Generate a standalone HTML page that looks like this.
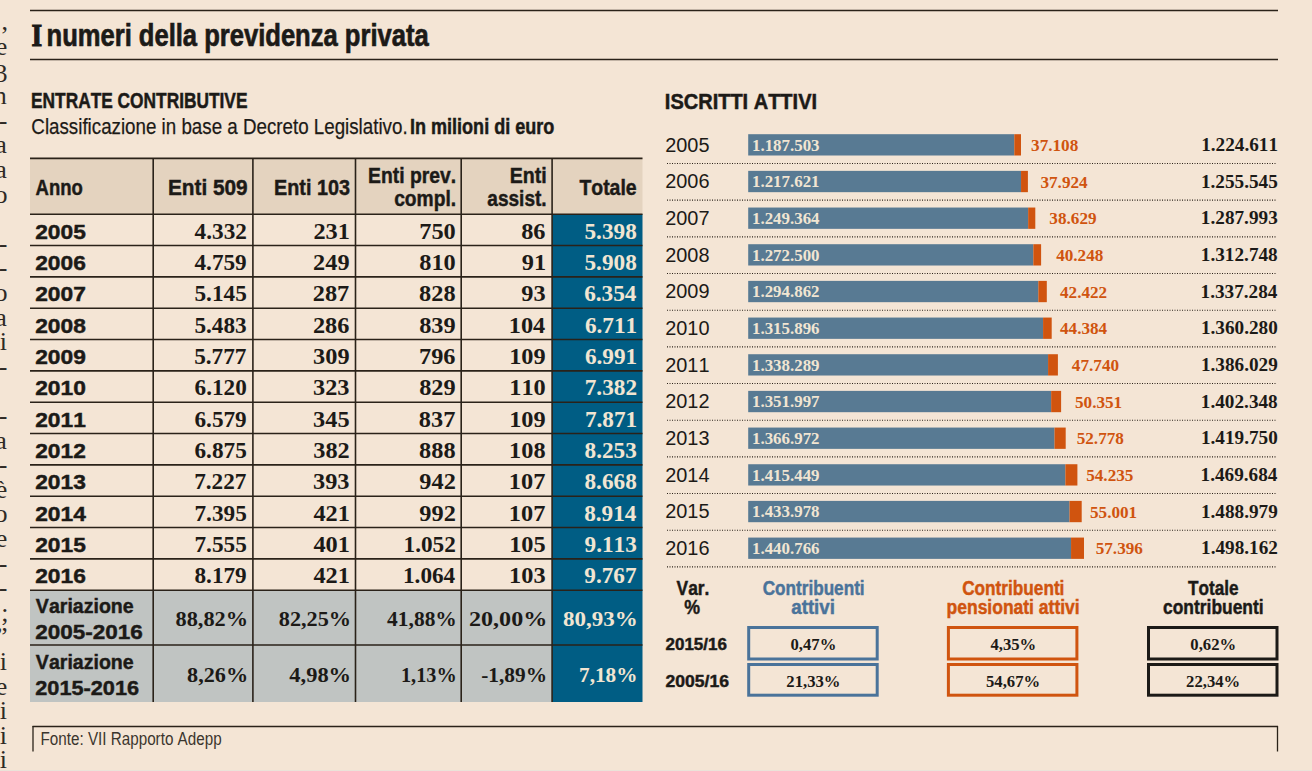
<!DOCTYPE html>
<html><head><meta charset="utf-8"><style>
html,body{margin:0;padding:0;background:#f4e5d5;}
body{width:1312px;height:771px;overflow:hidden;}
svg{display:block;}
text{font-kerning:none;}
</style></head><body>
<svg width="1312" height="771" viewBox="0 0 1312 771">
<rect x="0" y="0" width="1312" height="771" fill="#f4e5d5"/>
<line x1="30.00" y1="10.50" x2="1278.00" y2="10.50" stroke="#2a2219" stroke-width="1.5"/>
<line x1="30.00" y1="59.50" x2="1278.00" y2="59.50" stroke="#2a2219" stroke-width="1.5"/>
<text x="31.38" y="45.80" font-family="Liberation Serif" font-weight="bold" font-size="32.42" fill="#1c1a17" stroke="#1c1a17" stroke-width="1.2" textLength="10.64" lengthAdjust="spacingAndGlyphs">I</text>
<text x="46.52" y="45.80" font-family="Liberation Sans" font-weight="bold" font-size="31.10" fill="#1c1a17" stroke="#1c1a17" stroke-width="0.7" textLength="382.12" lengthAdjust="spacingAndGlyphs">numeri della previdenza privata</text>
<text x="31.04" y="108.40" font-family="Liberation Sans" font-weight="bold" font-size="21.66" fill="#1c1a17" stroke="#1c1a17" stroke-width="0.5" textLength="216.43" lengthAdjust="spacingAndGlyphs">ENTRATE CONTRIBUTIVE</text>
<text x="31.35" y="133.70" font-family="Liberation Sans" font-weight="normal" font-size="22.24" fill="#1c1a17" stroke="#1c1a17" stroke-width="0.25" textLength="376.26" lengthAdjust="spacingAndGlyphs">Classificazione in base a Decreto Legislativo.</text>
<text x="409.99" y="133.70" font-family="Liberation Sans" font-weight="bold" font-size="22.24" fill="#1c1a17" stroke="#1c1a17" stroke-width="0.5" textLength="144.31" lengthAdjust="spacingAndGlyphs">In milioni di euro</text>
<rect x="30.00" y="158.00" width="612.50" height="56.00" fill="#e4d3bf"/>
<rect x="30.00" y="590.00" width="522.10" height="112.00" fill="#c0c4c2"/>
<rect x="552.10" y="214.00" width="90.40" height="488.00" fill="#005d84"/>
<line x1="30.00" y1="158.40" x2="642.50" y2="158.40" stroke="#2a2219" stroke-width="1.6"/>
<line x1="30.00" y1="214.20" x2="642.50" y2="214.20" stroke="#2a2219" stroke-width="1.6"/>
<line x1="30.00" y1="245.53" x2="642.50" y2="245.53" stroke="#2a2219" stroke-width="1.6"/>
<line x1="30.00" y1="276.87" x2="642.50" y2="276.87" stroke="#2a2219" stroke-width="1.6"/>
<line x1="30.00" y1="308.20" x2="642.50" y2="308.20" stroke="#2a2219" stroke-width="1.6"/>
<line x1="30.00" y1="339.53" x2="642.50" y2="339.53" stroke="#2a2219" stroke-width="1.6"/>
<line x1="30.00" y1="370.87" x2="642.50" y2="370.87" stroke="#2a2219" stroke-width="1.6"/>
<line x1="30.00" y1="402.20" x2="642.50" y2="402.20" stroke="#2a2219" stroke-width="1.6"/>
<line x1="30.00" y1="433.53" x2="642.50" y2="433.53" stroke="#2a2219" stroke-width="1.6"/>
<line x1="30.00" y1="464.86" x2="642.50" y2="464.86" stroke="#2a2219" stroke-width="1.6"/>
<line x1="30.00" y1="496.20" x2="642.50" y2="496.20" stroke="#2a2219" stroke-width="1.6"/>
<line x1="30.00" y1="527.53" x2="642.50" y2="527.53" stroke="#2a2219" stroke-width="1.6"/>
<line x1="30.00" y1="558.86" x2="642.50" y2="558.86" stroke="#2a2219" stroke-width="1.6"/>
<line x1="30.00" y1="590.20" x2="642.50" y2="590.20" stroke="#2a2219" stroke-width="1.6"/>
<line x1="30.00" y1="645.00" x2="642.50" y2="645.00" stroke="#2a2219" stroke-width="1.6"/>
<line x1="153.20" y1="158.00" x2="153.20" y2="702.00" stroke="#2a2219" stroke-width="1.6"/>
<line x1="252.90" y1="158.00" x2="252.90" y2="702.00" stroke="#2a2219" stroke-width="1.6"/>
<line x1="355.50" y1="158.00" x2="355.50" y2="702.00" stroke="#2a2219" stroke-width="1.6"/>
<line x1="461.20" y1="158.00" x2="461.20" y2="702.00" stroke="#2a2219" stroke-width="1.6"/>
<line x1="552.10" y1="158.00" x2="552.10" y2="702.00" stroke="#2a2219" stroke-width="1.6"/>
<text x="35.54" y="195.20" font-family="Liberation Sans" font-weight="bold" font-size="21.51" fill="#1c1a17" stroke="#1c1a17" stroke-width="0.45" textLength="47.28" lengthAdjust="spacingAndGlyphs">Anno</text>
<text x="167.91" y="195.20" font-family="Liberation Sans" font-weight="bold" font-size="21.51" fill="#1c1a17" stroke="#1c1a17" stroke-width="0.45" textLength="79.76" lengthAdjust="spacingAndGlyphs">Enti 509</text>
<text x="274.08" y="195.20" font-family="Liberation Sans" font-weight="bold" font-size="21.51" fill="#1c1a17" stroke="#1c1a17" stroke-width="0.45" textLength="75.84" lengthAdjust="spacingAndGlyphs">Enti 103</text>
<text x="368.01" y="182.70" font-family="Liberation Sans" font-weight="bold" font-size="21.22" fill="#1c1a17" stroke="#1c1a17" stroke-width="0.45" textLength="88.13" lengthAdjust="spacingAndGlyphs">Enti prev.</text>
<text x="394.15" y="206.20" font-family="Liberation Sans" font-weight="bold" font-size="21.22" fill="#1c1a17" stroke="#1c1a17" stroke-width="0.45" textLength="61.98" lengthAdjust="spacingAndGlyphs">compl.</text>
<text x="509.69" y="182.70" font-family="Liberation Sans" font-weight="bold" font-size="21.22" fill="#1c1a17" stroke="#1c1a17" stroke-width="0.45" textLength="37.00" lengthAdjust="spacingAndGlyphs">Enti</text>
<text x="487.34" y="206.20" font-family="Liberation Sans" font-weight="bold" font-size="21.22" fill="#1c1a17" stroke="#1c1a17" stroke-width="0.45" textLength="59.27" lengthAdjust="spacingAndGlyphs">assist.</text>
<text x="579.38" y="195.20" font-family="Liberation Sans" font-weight="bold" font-size="21.51" fill="#1c1a17" stroke="#1c1a17" stroke-width="0.45" textLength="57.28" lengthAdjust="spacingAndGlyphs">Totale</text>
<text x="35.21" y="238.50" font-family="Liberation Sans" font-weight="bold" font-size="21.08" fill="#1c1a17" stroke="#1c1a17" stroke-width="0.45" textLength="50.64" lengthAdjust="spacingAndGlyphs">2005</text>
<text x="194.64" y="238.50" font-family="Liberation Serif" font-weight="bold" font-size="22.12" fill="#1c1a17" textLength="52.26" lengthAdjust="spacingAndGlyphs">4.332</text>
<text x="313.46" y="238.50" font-family="Liberation Serif" font-weight="bold" font-size="22.12" fill="#1c1a17" textLength="36.50" lengthAdjust="spacingAndGlyphs">231</text>
<text x="419.23" y="238.50" font-family="Liberation Serif" font-weight="bold" font-size="22.12" fill="#1c1a17" textLength="36.50" lengthAdjust="spacingAndGlyphs">750</text>
<text x="521.18" y="238.50" font-family="Liberation Serif" font-weight="bold" font-size="22.12" fill="#1c1a17" textLength="24.33" lengthAdjust="spacingAndGlyphs">86</text>
<text x="584.51" y="238.50" font-family="Liberation Serif" font-weight="bold" font-size="22.12" fill="#f1e5d2" textLength="52.26" lengthAdjust="spacingAndGlyphs">5.398</text>
<text x="35.21" y="269.83" font-family="Liberation Sans" font-weight="bold" font-size="21.08" fill="#1c1a17" stroke="#1c1a17" stroke-width="0.45" textLength="50.64" lengthAdjust="spacingAndGlyphs">2006</text>
<text x="194.48" y="269.83" font-family="Liberation Serif" font-weight="bold" font-size="22.12" fill="#1c1a17" textLength="52.26" lengthAdjust="spacingAndGlyphs">4.759</text>
<text x="313.08" y="269.83" font-family="Liberation Serif" font-weight="bold" font-size="22.12" fill="#1c1a17" textLength="36.50" lengthAdjust="spacingAndGlyphs">249</text>
<text x="419.23" y="269.83" font-family="Liberation Serif" font-weight="bold" font-size="22.12" fill="#1c1a17" textLength="36.50" lengthAdjust="spacingAndGlyphs">810</text>
<text x="521.73" y="269.83" font-family="Liberation Serif" font-weight="bold" font-size="22.12" fill="#1c1a17" textLength="24.33" lengthAdjust="spacingAndGlyphs">91</text>
<text x="584.51" y="269.83" font-family="Liberation Serif" font-weight="bold" font-size="22.12" fill="#f1e5d2" textLength="52.26" lengthAdjust="spacingAndGlyphs">5.908</text>
<text x="35.21" y="301.17" font-family="Liberation Sans" font-weight="bold" font-size="21.08" fill="#1c1a17" stroke="#1c1a17" stroke-width="0.45" textLength="50.64" lengthAdjust="spacingAndGlyphs">2007</text>
<text x="194.49" y="301.17" font-family="Liberation Serif" font-weight="bold" font-size="22.12" fill="#1c1a17" textLength="52.26" lengthAdjust="spacingAndGlyphs">5.145</text>
<text x="312.79" y="301.17" font-family="Liberation Serif" font-weight="bold" font-size="22.12" fill="#1c1a17" textLength="36.50" lengthAdjust="spacingAndGlyphs">287</text>
<text x="419.11" y="301.17" font-family="Liberation Serif" font-weight="bold" font-size="22.12" fill="#1c1a17" textLength="36.50" lengthAdjust="spacingAndGlyphs">828</text>
<text x="521.30" y="301.17" font-family="Liberation Serif" font-weight="bold" font-size="22.12" fill="#1c1a17" textLength="24.33" lengthAdjust="spacingAndGlyphs">93</text>
<text x="584.17" y="301.17" font-family="Liberation Serif" font-weight="bold" font-size="22.12" fill="#f1e5d2" textLength="52.26" lengthAdjust="spacingAndGlyphs">6.354</text>
<text x="35.21" y="332.50" font-family="Liberation Sans" font-weight="bold" font-size="21.08" fill="#1c1a17" stroke="#1c1a17" stroke-width="0.45" textLength="50.64" lengthAdjust="spacingAndGlyphs">2008</text>
<text x="194.43" y="332.50" font-family="Liberation Serif" font-weight="bold" font-size="22.12" fill="#1c1a17" textLength="52.26" lengthAdjust="spacingAndGlyphs">5.483</text>
<text x="312.91" y="332.50" font-family="Liberation Serif" font-weight="bold" font-size="22.12" fill="#1c1a17" textLength="36.50" lengthAdjust="spacingAndGlyphs">286</text>
<text x="419.18" y="332.50" font-family="Liberation Serif" font-weight="bold" font-size="22.12" fill="#1c1a17" textLength="36.50" lengthAdjust="spacingAndGlyphs">839</text>
<text x="508.75" y="332.50" font-family="Liberation Serif" font-weight="bold" font-size="22.12" fill="#1c1a17" textLength="36.50" lengthAdjust="spacingAndGlyphs">104</text>
<text x="584.94" y="332.50" font-family="Liberation Serif" font-weight="bold" font-size="22.12" fill="#f1e5d2" textLength="52.26" lengthAdjust="spacingAndGlyphs">6.711</text>
<text x="35.21" y="363.83" font-family="Liberation Sans" font-weight="bold" font-size="21.08" fill="#1c1a17" stroke="#1c1a17" stroke-width="0.45" textLength="50.64" lengthAdjust="spacingAndGlyphs">2009</text>
<text x="194.21" y="363.83" font-family="Liberation Serif" font-weight="bold" font-size="22.12" fill="#1c1a17" textLength="52.26" lengthAdjust="spacingAndGlyphs">5.777</text>
<text x="313.08" y="363.83" font-family="Liberation Serif" font-weight="bold" font-size="22.12" fill="#1c1a17" textLength="36.50" lengthAdjust="spacingAndGlyphs">309</text>
<text x="419.01" y="363.83" font-family="Liberation Serif" font-weight="bold" font-size="22.12" fill="#1c1a17" textLength="36.50" lengthAdjust="spacingAndGlyphs">796</text>
<text x="509.18" y="363.83" font-family="Liberation Serif" font-weight="bold" font-size="22.12" fill="#1c1a17" textLength="36.50" lengthAdjust="spacingAndGlyphs">109</text>
<text x="584.94" y="363.83" font-family="Liberation Serif" font-weight="bold" font-size="22.12" fill="#f1e5d2" textLength="52.26" lengthAdjust="spacingAndGlyphs">6.991</text>
<text x="35.21" y="395.16" font-family="Liberation Sans" font-weight="bold" font-size="21.08" fill="#1c1a17" stroke="#1c1a17" stroke-width="0.45" textLength="50.64" lengthAdjust="spacingAndGlyphs">2010</text>
<text x="194.52" y="395.16" font-family="Liberation Serif" font-weight="bold" font-size="22.12" fill="#1c1a17" textLength="52.26" lengthAdjust="spacingAndGlyphs">6.120</text>
<text x="313.03" y="395.16" font-family="Liberation Serif" font-weight="bold" font-size="22.12" fill="#1c1a17" textLength="36.50" lengthAdjust="spacingAndGlyphs">323</text>
<text x="419.18" y="395.16" font-family="Liberation Serif" font-weight="bold" font-size="22.12" fill="#1c1a17" textLength="36.50" lengthAdjust="spacingAndGlyphs">829</text>
<text x="509.23" y="395.16" font-family="Liberation Serif" font-weight="bold" font-size="22.12" fill="#1c1a17" textLength="36.50" lengthAdjust="spacingAndGlyphs">110</text>
<text x="584.74" y="395.16" font-family="Liberation Serif" font-weight="bold" font-size="22.12" fill="#f1e5d2" textLength="52.26" lengthAdjust="spacingAndGlyphs">7.382</text>
<text x="35.21" y="426.50" font-family="Liberation Sans" font-weight="bold" font-size="21.08" fill="#1c1a17" stroke="#1c1a17" stroke-width="0.45" textLength="50.64" lengthAdjust="spacingAndGlyphs">2011</text>
<text x="194.48" y="426.50" font-family="Liberation Serif" font-weight="bold" font-size="22.12" fill="#1c1a17" textLength="52.26" lengthAdjust="spacingAndGlyphs">6.579</text>
<text x="313.09" y="426.50" font-family="Liberation Serif" font-weight="bold" font-size="22.12" fill="#1c1a17" textLength="36.50" lengthAdjust="spacingAndGlyphs">345</text>
<text x="418.89" y="426.50" font-family="Liberation Serif" font-weight="bold" font-size="22.12" fill="#1c1a17" textLength="36.50" lengthAdjust="spacingAndGlyphs">837</text>
<text x="509.18" y="426.50" font-family="Liberation Serif" font-weight="bold" font-size="22.12" fill="#1c1a17" textLength="36.50" lengthAdjust="spacingAndGlyphs">109</text>
<text x="584.94" y="426.50" font-family="Liberation Serif" font-weight="bold" font-size="22.12" fill="#f1e5d2" textLength="52.26" lengthAdjust="spacingAndGlyphs">7.871</text>
<text x="35.21" y="457.83" font-family="Liberation Sans" font-weight="bold" font-size="21.08" fill="#1c1a17" stroke="#1c1a17" stroke-width="0.45" textLength="50.64" lengthAdjust="spacingAndGlyphs">2012</text>
<text x="194.49" y="457.83" font-family="Liberation Serif" font-weight="bold" font-size="22.12" fill="#1c1a17" textLength="52.26" lengthAdjust="spacingAndGlyphs">6.875</text>
<text x="313.25" y="457.83" font-family="Liberation Serif" font-weight="bold" font-size="22.12" fill="#1c1a17" textLength="36.50" lengthAdjust="spacingAndGlyphs">382</text>
<text x="419.11" y="457.83" font-family="Liberation Serif" font-weight="bold" font-size="22.12" fill="#1c1a17" textLength="36.50" lengthAdjust="spacingAndGlyphs">888</text>
<text x="509.11" y="457.83" font-family="Liberation Serif" font-weight="bold" font-size="22.12" fill="#1c1a17" textLength="36.50" lengthAdjust="spacingAndGlyphs">108</text>
<text x="584.53" y="457.83" font-family="Liberation Serif" font-weight="bold" font-size="22.12" fill="#f1e5d2" textLength="52.26" lengthAdjust="spacingAndGlyphs">8.253</text>
<text x="35.21" y="489.16" font-family="Liberation Sans" font-weight="bold" font-size="21.08" fill="#1c1a17" stroke="#1c1a17" stroke-width="0.45" textLength="50.64" lengthAdjust="spacingAndGlyphs">2013</text>
<text x="194.21" y="489.16" font-family="Liberation Serif" font-weight="bold" font-size="22.12" fill="#1c1a17" textLength="52.26" lengthAdjust="spacingAndGlyphs">7.227</text>
<text x="313.03" y="489.16" font-family="Liberation Serif" font-weight="bold" font-size="22.12" fill="#1c1a17" textLength="36.50" lengthAdjust="spacingAndGlyphs">393</text>
<text x="419.35" y="489.16" font-family="Liberation Serif" font-weight="bold" font-size="22.12" fill="#1c1a17" textLength="36.50" lengthAdjust="spacingAndGlyphs">942</text>
<text x="508.89" y="489.16" font-family="Liberation Serif" font-weight="bold" font-size="22.12" fill="#1c1a17" textLength="36.50" lengthAdjust="spacingAndGlyphs">107</text>
<text x="584.51" y="489.16" font-family="Liberation Serif" font-weight="bold" font-size="22.12" fill="#f1e5d2" textLength="52.26" lengthAdjust="spacingAndGlyphs">8.668</text>
<text x="35.21" y="520.50" font-family="Liberation Sans" font-weight="bold" font-size="21.08" fill="#1c1a17" stroke="#1c1a17" stroke-width="0.45" textLength="50.64" lengthAdjust="spacingAndGlyphs">2014</text>
<text x="194.49" y="520.50" font-family="Liberation Serif" font-weight="bold" font-size="22.12" fill="#1c1a17" textLength="52.26" lengthAdjust="spacingAndGlyphs">7.395</text>
<text x="313.46" y="520.50" font-family="Liberation Serif" font-weight="bold" font-size="22.12" fill="#1c1a17" textLength="36.50" lengthAdjust="spacingAndGlyphs">421</text>
<text x="419.35" y="520.50" font-family="Liberation Serif" font-weight="bold" font-size="22.12" fill="#1c1a17" textLength="36.50" lengthAdjust="spacingAndGlyphs">992</text>
<text x="508.89" y="520.50" font-family="Liberation Serif" font-weight="bold" font-size="22.12" fill="#1c1a17" textLength="36.50" lengthAdjust="spacingAndGlyphs">107</text>
<text x="584.17" y="520.50" font-family="Liberation Serif" font-weight="bold" font-size="22.12" fill="#f1e5d2" textLength="52.26" lengthAdjust="spacingAndGlyphs">8.914</text>
<text x="35.21" y="551.83" font-family="Liberation Sans" font-weight="bold" font-size="21.08" fill="#1c1a17" stroke="#1c1a17" stroke-width="0.45" textLength="50.64" lengthAdjust="spacingAndGlyphs">2015</text>
<text x="194.49" y="551.83" font-family="Liberation Serif" font-weight="bold" font-size="22.12" fill="#1c1a17" textLength="52.26" lengthAdjust="spacingAndGlyphs">7.555</text>
<text x="313.46" y="551.83" font-family="Liberation Serif" font-weight="bold" font-size="22.12" fill="#1c1a17" textLength="36.50" lengthAdjust="spacingAndGlyphs">401</text>
<text x="403.54" y="551.83" font-family="Liberation Serif" font-weight="bold" font-size="22.12" fill="#1c1a17" textLength="52.26" lengthAdjust="spacingAndGlyphs">1.052</text>
<text x="509.19" y="551.83" font-family="Liberation Serif" font-weight="bold" font-size="22.12" fill="#1c1a17" textLength="36.50" lengthAdjust="spacingAndGlyphs">105</text>
<text x="584.53" y="551.83" font-family="Liberation Serif" font-weight="bold" font-size="22.12" fill="#f1e5d2" textLength="52.26" lengthAdjust="spacingAndGlyphs">9.113</text>
<text x="35.21" y="583.16" font-family="Liberation Sans" font-weight="bold" font-size="21.08" fill="#1c1a17" stroke="#1c1a17" stroke-width="0.45" textLength="50.64" lengthAdjust="spacingAndGlyphs">2016</text>
<text x="194.48" y="583.16" font-family="Liberation Serif" font-weight="bold" font-size="22.12" fill="#1c1a17" textLength="52.26" lengthAdjust="spacingAndGlyphs">8.179</text>
<text x="313.46" y="583.16" font-family="Liberation Serif" font-weight="bold" font-size="22.12" fill="#1c1a17" textLength="36.50" lengthAdjust="spacingAndGlyphs">421</text>
<text x="402.97" y="583.16" font-family="Liberation Serif" font-weight="bold" font-size="22.12" fill="#1c1a17" textLength="52.26" lengthAdjust="spacingAndGlyphs">1.064</text>
<text x="509.13" y="583.16" font-family="Liberation Serif" font-weight="bold" font-size="22.12" fill="#1c1a17" textLength="36.50" lengthAdjust="spacingAndGlyphs">103</text>
<text x="584.31" y="583.16" font-family="Liberation Serif" font-weight="bold" font-size="22.12" fill="#f1e5d2" textLength="52.26" lengthAdjust="spacingAndGlyphs">9.767</text>
<text x="35.87" y="613.20" font-family="Liberation Sans" font-weight="bold" font-size="20.93" fill="#1c1a17" stroke="#1c1a17" stroke-width="0.45" textLength="97.80" lengthAdjust="spacingAndGlyphs">Variazione</text>
<text x="35.22" y="639.00" font-family="Liberation Sans" font-weight="bold" font-size="20.93" fill="#1c1a17" stroke="#1c1a17" stroke-width="0.45" textLength="107.59" lengthAdjust="spacingAndGlyphs">2005-2016</text>
<text x="35.87" y="669.00" font-family="Liberation Sans" font-weight="bold" font-size="20.93" fill="#1c1a17" stroke="#1c1a17" stroke-width="0.45" textLength="97.80" lengthAdjust="spacingAndGlyphs">Variazione</text>
<text x="35.25" y="694.50" font-family="Liberation Sans" font-weight="bold" font-size="20.93" fill="#1c1a17" stroke="#1c1a17" stroke-width="0.45" textLength="103.84" lengthAdjust="spacingAndGlyphs">2015-2016</text>
<text x="175.56" y="626.00" font-family="Liberation Serif" font-weight="bold" font-size="21.82" fill="#1c1a17" textLength="72.53" lengthAdjust="spacingAndGlyphs">88,82%</text>
<text x="187.06" y="682.40" font-family="Liberation Serif" font-weight="bold" font-size="21.82" fill="#1c1a17" textLength="61.02" lengthAdjust="spacingAndGlyphs">8,26%</text>
<text x="278.76" y="626.00" font-family="Liberation Serif" font-weight="bold" font-size="21.82" fill="#1c1a17" textLength="72.33" lengthAdjust="spacingAndGlyphs">82,25%</text>
<text x="289.29" y="682.40" font-family="Liberation Serif" font-weight="bold" font-size="21.82" fill="#1c1a17" textLength="61.81" lengthAdjust="spacingAndGlyphs">4,98%</text>
<text x="387.11" y="626.00" font-family="Liberation Serif" font-weight="bold" font-size="21.82" fill="#1c1a17" textLength="69.70" lengthAdjust="spacingAndGlyphs">41,88%</text>
<text x="400.98" y="682.40" font-family="Liberation Serif" font-weight="bold" font-size="21.82" fill="#1c1a17" textLength="55.72" lengthAdjust="spacingAndGlyphs">1,13%</text>
<text x="468.99" y="626.00" font-family="Liberation Serif" font-weight="bold" font-size="21.82" fill="#1c1a17" textLength="78.27" lengthAdjust="spacingAndGlyphs">20,00%</text>
<text x="481.22" y="682.40" font-family="Liberation Serif" font-weight="bold" font-size="21.82" fill="#1c1a17" textLength="65.78" lengthAdjust="spacingAndGlyphs">-1,89%</text>
<text x="562.94" y="626.00" font-family="Liberation Serif" font-weight="bold" font-size="21.82" fill="#f1e5d2" textLength="74.72" lengthAdjust="spacingAndGlyphs">80,93%</text>
<text x="579.09" y="682.40" font-family="Liberation Serif" font-weight="bold" font-size="21.82" fill="#f1e5d2" textLength="58.40" lengthAdjust="spacingAndGlyphs">7,18%</text>
<text x="664.86" y="108.60" font-family="Liberation Sans" font-weight="bold" font-size="21.22" fill="#1c1a17" stroke="#1c1a17" stroke-width="0.5" textLength="152.18" lengthAdjust="spacingAndGlyphs">ISCRITTI ATTIVI</text>
<rect x="748.20" y="134.20" width="266.10" height="21.30" fill="#587a93"/>
<rect x="1014.30" y="134.20" width="6.70" height="21.30" fill="#d0540f"/>
<text x="665.20" y="151.70" font-family="Liberation Sans" font-weight="normal" font-size="19.91" fill="#1c1a17" textLength="44.30" lengthAdjust="spacingAndGlyphs">2005</text>
<text x="752.05" y="150.60" font-family="Liberation Serif" font-weight="bold" font-size="16.21" fill="#f1e5d2" textLength="67.44" lengthAdjust="spacingAndGlyphs">1.187.503</text>
<text x="1031.05" y="151.00" font-family="Liberation Serif" font-weight="bold" font-size="16.67" fill="#d0540f" textLength="47.21" lengthAdjust="spacingAndGlyphs">37.108</text>
<text x="1201.20" y="151.10" font-family="Liberation Serif" font-weight="bold" font-size="18.94" fill="#1c1a17" textLength="76.89" lengthAdjust="spacingAndGlyphs">1.224.611</text>
<line x1="667.00" y1="163.50" x2="1277.00" y2="163.50" stroke="#2a2219" stroke-width="1.1" stroke-dasharray="1 1.5"/>
<rect x="748.20" y="170.87" width="272.84" height="21.30" fill="#587a93"/>
<rect x="1021.04" y="170.87" width="6.86" height="21.30" fill="#d0540f"/>
<text x="665.20" y="188.37" font-family="Liberation Sans" font-weight="normal" font-size="19.91" fill="#1c1a17" textLength="44.30" lengthAdjust="spacingAndGlyphs">2006</text>
<text x="752.05" y="187.27" font-family="Liberation Serif" font-weight="bold" font-size="16.21" fill="#f1e5d2" textLength="67.44" lengthAdjust="spacingAndGlyphs">1.217.621</text>
<text x="1040.45" y="187.67" font-family="Liberation Serif" font-weight="bold" font-size="16.67" fill="#d0540f" textLength="47.21" lengthAdjust="spacingAndGlyphs">37.924</text>
<text x="1200.91" y="187.77" font-family="Liberation Serif" font-weight="bold" font-size="18.94" fill="#1c1a17" textLength="76.89" lengthAdjust="spacingAndGlyphs">1.255.545</text>
<line x1="667.00" y1="200.17" x2="1277.00" y2="200.17" stroke="#2a2219" stroke-width="1.1" stroke-dasharray="1 1.5"/>
<rect x="748.20" y="207.54" width="279.96" height="21.30" fill="#587a93"/>
<rect x="1028.16" y="207.54" width="7.14" height="21.30" fill="#d0540f"/>
<text x="665.20" y="225.04" font-family="Liberation Sans" font-weight="normal" font-size="19.91" fill="#1c1a17" textLength="44.30" lengthAdjust="spacingAndGlyphs">2007</text>
<text x="752.05" y="223.94" font-family="Liberation Serif" font-weight="bold" font-size="16.21" fill="#f1e5d2" textLength="67.44" lengthAdjust="spacingAndGlyphs">1.249.364</text>
<text x="1049.35" y="224.34" font-family="Liberation Serif" font-weight="bold" font-size="16.67" fill="#d0540f" textLength="47.21" lengthAdjust="spacingAndGlyphs">38.629</text>
<text x="1200.86" y="224.44" font-family="Liberation Serif" font-weight="bold" font-size="18.94" fill="#1c1a17" textLength="76.89" lengthAdjust="spacingAndGlyphs">1.287.993</text>
<line x1="667.00" y1="236.84" x2="1277.00" y2="236.84" stroke="#2a2219" stroke-width="1.1" stroke-dasharray="1 1.5"/>
<rect x="748.20" y="244.21" width="285.14" height="21.30" fill="#587a93"/>
<rect x="1033.34" y="244.21" width="7.76" height="21.30" fill="#d0540f"/>
<text x="665.20" y="261.71" font-family="Liberation Sans" font-weight="normal" font-size="19.91" fill="#1c1a17" textLength="44.30" lengthAdjust="spacingAndGlyphs">2008</text>
<text x="752.05" y="260.61" font-family="Liberation Serif" font-weight="bold" font-size="16.21" fill="#f1e5d2" textLength="67.44" lengthAdjust="spacingAndGlyphs">1.272.500</text>
<text x="1056.17" y="261.01" font-family="Liberation Serif" font-weight="bold" font-size="16.67" fill="#d0540f" textLength="47.21" lengthAdjust="spacingAndGlyphs">40.248</text>
<text x="1200.84" y="261.11" font-family="Liberation Serif" font-weight="bold" font-size="18.94" fill="#1c1a17" textLength="76.89" lengthAdjust="spacingAndGlyphs">1.312.748</text>
<line x1="667.00" y1="273.51" x2="1277.00" y2="273.51" stroke="#2a2219" stroke-width="1.1" stroke-dasharray="1 1.5"/>
<rect x="748.20" y="280.88" width="290.15" height="21.30" fill="#587a93"/>
<rect x="1038.35" y="280.88" width="8.45" height="21.30" fill="#d0540f"/>
<text x="665.20" y="298.38" font-family="Liberation Sans" font-weight="normal" font-size="19.91" fill="#1c1a17" textLength="44.30" lengthAdjust="spacingAndGlyphs">2009</text>
<text x="752.05" y="297.28" font-family="Liberation Serif" font-weight="bold" font-size="16.21" fill="#f1e5d2" textLength="67.44" lengthAdjust="spacingAndGlyphs">1.294.862</text>
<text x="1059.97" y="297.68" font-family="Liberation Serif" font-weight="bold" font-size="16.67" fill="#d0540f" textLength="47.21" lengthAdjust="spacingAndGlyphs">42.422</text>
<text x="1200.56" y="297.78" font-family="Liberation Serif" font-weight="bold" font-size="18.94" fill="#1c1a17" textLength="76.89" lengthAdjust="spacingAndGlyphs">1.337.284</text>
<line x1="667.00" y1="310.18" x2="1277.00" y2="310.18" stroke="#2a2219" stroke-width="1.1" stroke-dasharray="1 1.5"/>
<rect x="748.20" y="317.55" width="294.87" height="21.30" fill="#587a93"/>
<rect x="1043.07" y="317.55" width="8.63" height="21.30" fill="#d0540f"/>
<text x="665.20" y="335.05" font-family="Liberation Sans" font-weight="normal" font-size="19.91" fill="#1c1a17" textLength="44.30" lengthAdjust="spacingAndGlyphs">2010</text>
<text x="752.05" y="333.95" font-family="Liberation Serif" font-weight="bold" font-size="16.21" fill="#f1e5d2" textLength="67.44" lengthAdjust="spacingAndGlyphs">1.315.896</text>
<text x="1059.97" y="334.35" font-family="Liberation Serif" font-weight="bold" font-size="16.67" fill="#d0540f" textLength="47.21" lengthAdjust="spacingAndGlyphs">44.384</text>
<text x="1200.94" y="334.45" font-family="Liberation Serif" font-weight="bold" font-size="18.94" fill="#1c1a17" textLength="76.89" lengthAdjust="spacingAndGlyphs">1.360.280</text>
<line x1="667.00" y1="346.85" x2="1277.00" y2="346.85" stroke="#2a2219" stroke-width="1.1" stroke-dasharray="1 1.5"/>
<rect x="748.20" y="354.22" width="299.88" height="21.30" fill="#587a93"/>
<rect x="1048.08" y="354.22" width="9.82" height="21.30" fill="#d0540f"/>
<text x="665.20" y="371.72" font-family="Liberation Sans" font-weight="normal" font-size="19.91" fill="#1c1a17" textLength="44.30" lengthAdjust="spacingAndGlyphs">2011</text>
<text x="752.05" y="370.62" font-family="Liberation Serif" font-weight="bold" font-size="16.21" fill="#f1e5d2" textLength="67.44" lengthAdjust="spacingAndGlyphs">1.338.289</text>
<text x="1071.87" y="371.02" font-family="Liberation Serif" font-weight="bold" font-size="16.67" fill="#d0540f" textLength="47.21" lengthAdjust="spacingAndGlyphs">47.740</text>
<text x="1200.90" y="371.12" font-family="Liberation Serif" font-weight="bold" font-size="18.94" fill="#1c1a17" textLength="76.89" lengthAdjust="spacingAndGlyphs">1.386.029</text>
<line x1="667.00" y1="383.52" x2="1277.00" y2="383.52" stroke="#2a2219" stroke-width="1.1" stroke-dasharray="1 1.5"/>
<rect x="748.20" y="390.89" width="302.96" height="21.30" fill="#587a93"/>
<rect x="1051.16" y="390.89" width="9.94" height="21.30" fill="#d0540f"/>
<text x="665.20" y="408.39" font-family="Liberation Sans" font-weight="normal" font-size="19.91" fill="#1c1a17" textLength="44.30" lengthAdjust="spacingAndGlyphs">2012</text>
<text x="752.05" y="407.29" font-family="Liberation Serif" font-weight="bold" font-size="16.21" fill="#f1e5d2" textLength="67.44" lengthAdjust="spacingAndGlyphs">1.351.997</text>
<text x="1075.01" y="407.69" font-family="Liberation Serif" font-weight="bold" font-size="16.67" fill="#d0540f" textLength="47.21" lengthAdjust="spacingAndGlyphs">50.351</text>
<text x="1200.84" y="407.79" font-family="Liberation Serif" font-weight="bold" font-size="18.94" fill="#1c1a17" textLength="76.89" lengthAdjust="spacingAndGlyphs">1.402.348</text>
<line x1="667.00" y1="420.19" x2="1277.00" y2="420.19" stroke="#2a2219" stroke-width="1.1" stroke-dasharray="1 1.5"/>
<rect x="748.20" y="427.56" width="306.31" height="21.30" fill="#587a93"/>
<rect x="1054.51" y="427.56" width="11.19" height="21.30" fill="#d0540f"/>
<text x="665.20" y="445.06" font-family="Liberation Sans" font-weight="normal" font-size="19.91" fill="#1c1a17" textLength="44.30" lengthAdjust="spacingAndGlyphs">2013</text>
<text x="752.05" y="443.96" font-family="Liberation Serif" font-weight="bold" font-size="16.21" fill="#f1e5d2" textLength="67.44" lengthAdjust="spacingAndGlyphs">1.366.972</text>
<text x="1076.71" y="444.36" font-family="Liberation Serif" font-weight="bold" font-size="16.67" fill="#d0540f" textLength="47.21" lengthAdjust="spacingAndGlyphs">52.778</text>
<text x="1200.94" y="444.46" font-family="Liberation Serif" font-weight="bold" font-size="18.94" fill="#1c1a17" textLength="76.89" lengthAdjust="spacingAndGlyphs">1.419.750</text>
<line x1="667.00" y1="456.86" x2="1277.00" y2="456.86" stroke="#2a2219" stroke-width="1.1" stroke-dasharray="1 1.5"/>
<rect x="748.20" y="464.23" width="317.17" height="21.30" fill="#587a93"/>
<rect x="1065.37" y="464.23" width="12.03" height="21.30" fill="#d0540f"/>
<text x="665.20" y="481.73" font-family="Liberation Sans" font-weight="normal" font-size="19.91" fill="#1c1a17" textLength="44.30" lengthAdjust="spacingAndGlyphs">2014</text>
<text x="752.05" y="480.63" font-family="Liberation Serif" font-weight="bold" font-size="16.21" fill="#f1e5d2" textLength="67.44" lengthAdjust="spacingAndGlyphs">1.415.449</text>
<text x="1086.21" y="481.03" font-family="Liberation Serif" font-weight="bold" font-size="16.67" fill="#d0540f" textLength="47.21" lengthAdjust="spacingAndGlyphs">54.235</text>
<text x="1200.56" y="481.13" font-family="Liberation Serif" font-weight="bold" font-size="18.94" fill="#1c1a17" textLength="76.89" lengthAdjust="spacingAndGlyphs">1.469.684</text>
<line x1="667.00" y1="493.53" x2="1277.00" y2="493.53" stroke="#2a2219" stroke-width="1.1" stroke-dasharray="1 1.5"/>
<rect x="748.20" y="500.90" width="321.33" height="21.30" fill="#587a93"/>
<rect x="1069.53" y="500.90" width="12.17" height="21.30" fill="#d0540f"/>
<text x="665.20" y="518.40" font-family="Liberation Sans" font-weight="normal" font-size="19.91" fill="#1c1a17" textLength="44.30" lengthAdjust="spacingAndGlyphs">2015</text>
<text x="752.05" y="517.30" font-family="Liberation Serif" font-weight="bold" font-size="16.21" fill="#f1e5d2" textLength="67.44" lengthAdjust="spacingAndGlyphs">1.433.978</text>
<text x="1090.01" y="517.70" font-family="Liberation Serif" font-weight="bold" font-size="16.67" fill="#d0540f" textLength="47.21" lengthAdjust="spacingAndGlyphs">55.001</text>
<text x="1200.90" y="517.80" font-family="Liberation Serif" font-weight="bold" font-size="18.94" fill="#1c1a17" textLength="76.89" lengthAdjust="spacingAndGlyphs">1.488.979</text>
<line x1="667.00" y1="530.20" x2="1277.00" y2="530.20" stroke="#2a2219" stroke-width="1.1" stroke-dasharray="1 1.5"/>
<rect x="748.20" y="537.57" width="322.85" height="21.30" fill="#587a93"/>
<rect x="1071.05" y="537.57" width="12.95" height="21.30" fill="#d0540f"/>
<text x="665.20" y="555.07" font-family="Liberation Sans" font-weight="normal" font-size="19.91" fill="#1c1a17" textLength="44.30" lengthAdjust="spacingAndGlyphs">2016</text>
<text x="752.05" y="553.97" font-family="Liberation Serif" font-weight="bold" font-size="16.21" fill="#f1e5d2" textLength="67.44" lengthAdjust="spacingAndGlyphs">1.440.766</text>
<text x="1095.71" y="554.37" font-family="Liberation Serif" font-weight="bold" font-size="16.67" fill="#d0540f" textLength="47.21" lengthAdjust="spacingAndGlyphs">57.396</text>
<text x="1201.03" y="554.47" font-family="Liberation Serif" font-weight="bold" font-size="18.94" fill="#1c1a17" textLength="76.89" lengthAdjust="spacingAndGlyphs">1.498.162</text>
<line x1="667.00" y1="566.87" x2="1277.00" y2="566.87" stroke="#2a2219" stroke-width="1.1" stroke-dasharray="1 1.5"/>
<text x="676.58" y="595.10" font-family="Liberation Sans" font-weight="bold" font-size="19.91" fill="#1c1a17" stroke="#1c1a17" stroke-width="0.45" textLength="32.81" lengthAdjust="spacingAndGlyphs">Var.</text>
<text x="684.16" y="613.80" font-family="Liberation Sans" font-weight="bold" font-size="19.91" fill="#1c1a17" stroke="#1c1a17" stroke-width="0.45" textLength="15.81" lengthAdjust="spacingAndGlyphs">%</text>
<text x="762.70" y="594.50" font-family="Liberation Sans" font-weight="bold" font-size="19.48" fill="#4a739a" stroke="#4a739a" stroke-width="0.45" textLength="101.92" lengthAdjust="spacingAndGlyphs">Contribuenti</text>
<text x="791.25" y="613.80" font-family="Liberation Sans" font-weight="bold" font-size="19.48" fill="#4a739a" stroke="#4a739a" stroke-width="0.45" textLength="43.67" lengthAdjust="spacingAndGlyphs">attivi</text>
<text x="962.19" y="594.50" font-family="Liberation Sans" font-weight="bold" font-size="19.48" fill="#d0540f" stroke="#d0540f" stroke-width="0.45" textLength="102.22" lengthAdjust="spacingAndGlyphs">Contribuenti</text>
<text x="946.55" y="613.80" font-family="Liberation Sans" font-weight="bold" font-size="19.48" fill="#d0540f" stroke="#d0540f" stroke-width="0.45" textLength="133.09" lengthAdjust="spacingAndGlyphs">pensionati attivi</text>
<text x="1188.01" y="594.50" font-family="Liberation Sans" font-weight="bold" font-size="19.48" fill="#1c1a17" stroke="#1c1a17" stroke-width="0.45" textLength="50.48" lengthAdjust="spacingAndGlyphs">Totale</text>
<text x="1163.02" y="613.80" font-family="Liberation Sans" font-weight="bold" font-size="19.48" fill="#1c1a17" stroke="#1c1a17" stroke-width="0.45" textLength="100.61" lengthAdjust="spacingAndGlyphs">contribuenti</text>
<text x="665.51" y="649.80" font-family="Liberation Sans" font-weight="bold" font-size="16.57" fill="#1c1a17" stroke="#1c1a17" stroke-width="0.45" textLength="61.40" lengthAdjust="spacingAndGlyphs">2015/16</text>
<text x="665.49" y="686.70" font-family="Liberation Sans" font-weight="bold" font-size="16.57" fill="#1c1a17" stroke="#1c1a17" stroke-width="0.45" textLength="63.54" lengthAdjust="spacingAndGlyphs">2005/16</text>
<rect x="748.70" y="627.50" width="128.50" height="31.50" fill="none" stroke="#4a739a" stroke-width="3"/>
<text x="790.50" y="649.80" font-family="Liberation Serif" font-weight="bold" font-size="16.67" fill="#1c1a17" textLength="45.83" lengthAdjust="spacingAndGlyphs">0,47%</text>
<rect x="748.70" y="664.50" width="128.50" height="30.70" fill="none" stroke="#4a739a" stroke-width="3"/>
<text x="786.30" y="686.70" font-family="Liberation Serif" font-weight="bold" font-size="16.67" fill="#1c1a17" textLength="54.17" lengthAdjust="spacingAndGlyphs">21,33%</text>
<rect x="948.40" y="627.50" width="128.50" height="31.50" fill="none" stroke="#d0540f" stroke-width="3"/>
<text x="990.40" y="649.80" font-family="Liberation Serif" font-weight="bold" font-size="16.67" fill="#1c1a17" textLength="45.83" lengthAdjust="spacingAndGlyphs">4,35%</text>
<rect x="948.40" y="664.50" width="128.50" height="30.70" fill="none" stroke="#d0540f" stroke-width="3"/>
<text x="986.01" y="686.70" font-family="Liberation Serif" font-weight="bold" font-size="16.67" fill="#1c1a17" textLength="54.17" lengthAdjust="spacingAndGlyphs">54,67%</text>
<rect x="1148.50" y="627.50" width="128.50" height="31.50" fill="none" stroke="#1c1a17" stroke-width="3"/>
<text x="1190.30" y="649.80" font-family="Liberation Serif" font-weight="bold" font-size="16.67" fill="#1c1a17" textLength="45.83" lengthAdjust="spacingAndGlyphs">0,62%</text>
<rect x="1148.50" y="664.50" width="128.50" height="30.70" fill="none" stroke="#1c1a17" stroke-width="3"/>
<text x="1186.10" y="686.70" font-family="Liberation Serif" font-weight="bold" font-size="16.67" fill="#1c1a17" textLength="54.17" lengthAdjust="spacingAndGlyphs">22,34%</text>
<text x="1.54" y="30.40" font-family="Liberation Serif" font-weight="normal" font-size="26.00" fill="#2e2a25" textLength="6.50" lengthAdjust="spacingAndGlyphs">,</text>
<text x="-4.24" y="55.00" font-family="Liberation Serif" font-weight="normal" font-size="26.00" fill="#2e2a25" textLength="11.54" lengthAdjust="spacingAndGlyphs">e</text>
<text x="-5.58" y="81.60" font-family="Liberation Serif" font-weight="normal" font-size="26.00" fill="#2e2a25" textLength="13.00" lengthAdjust="spacingAndGlyphs">3</text>
<text x="-6.21" y="104.20" font-family="Liberation Serif" font-weight="normal" font-size="26.00" fill="#2e2a25" textLength="13.00" lengthAdjust="spacingAndGlyphs">n</text>
<text x="-1.32" y="128.80" font-family="Liberation Serif" font-weight="normal" font-size="26.00" fill="#2e2a25" textLength="8.66" lengthAdjust="spacingAndGlyphs">-</text>
<text x="-4.78" y="153.40" font-family="Liberation Serif" font-weight="normal" font-size="26.00" fill="#2e2a25" textLength="11.54" lengthAdjust="spacingAndGlyphs">a</text>
<text x="-4.78" y="178.00" font-family="Liberation Serif" font-weight="normal" font-size="26.00" fill="#2e2a25" textLength="11.54" lengthAdjust="spacingAndGlyphs">a</text>
<text x="-5.61" y="202.60" font-family="Liberation Serif" font-weight="normal" font-size="26.00" fill="#2e2a25" textLength="13.00" lengthAdjust="spacingAndGlyphs">o</text>
<text x="-1.32" y="251.80" font-family="Liberation Serif" font-weight="normal" font-size="26.00" fill="#2e2a25" textLength="8.66" lengthAdjust="spacingAndGlyphs">-</text>
<text x="-1.32" y="276.40" font-family="Liberation Serif" font-weight="normal" font-size="26.00" fill="#2e2a25" textLength="8.66" lengthAdjust="spacingAndGlyphs">-</text>
<text x="-5.61" y="301.00" font-family="Liberation Serif" font-weight="normal" font-size="26.00" fill="#2e2a25" textLength="13.00" lengthAdjust="spacingAndGlyphs">o</text>
<text x="-4.78" y="325.60" font-family="Liberation Serif" font-weight="normal" font-size="26.00" fill="#2e2a25" textLength="11.54" lengthAdjust="spacingAndGlyphs">a</text>
<text x="-0.33" y="350.20" font-family="Liberation Serif" font-weight="normal" font-size="26.00" fill="#2e2a25" textLength="7.22" lengthAdjust="spacingAndGlyphs">i</text>
<text x="-1.32" y="374.80" font-family="Liberation Serif" font-weight="normal" font-size="26.00" fill="#2e2a25" textLength="8.66" lengthAdjust="spacingAndGlyphs">-</text>
<text x="-1.32" y="424.00" font-family="Liberation Serif" font-weight="normal" font-size="26.00" fill="#2e2a25" textLength="8.66" lengthAdjust="spacingAndGlyphs">-</text>
<text x="-4.78" y="448.60" font-family="Liberation Serif" font-weight="normal" font-size="26.00" fill="#2e2a25" textLength="11.54" lengthAdjust="spacingAndGlyphs">a</text>
<text x="-1.32" y="473.20" font-family="Liberation Serif" font-weight="normal" font-size="26.00" fill="#2e2a25" textLength="8.66" lengthAdjust="spacingAndGlyphs">-</text>
<text x="-4.24" y="497.80" font-family="Liberation Serif" font-weight="normal" font-size="26.00" fill="#2e2a25" textLength="11.54" lengthAdjust="spacingAndGlyphs">è</text>
<text x="-5.61" y="522.40" font-family="Liberation Serif" font-weight="normal" font-size="26.00" fill="#2e2a25" textLength="13.00" lengthAdjust="spacingAndGlyphs">o</text>
<text x="-4.24" y="547.00" font-family="Liberation Serif" font-weight="normal" font-size="26.00" fill="#2e2a25" textLength="11.54" lengthAdjust="spacingAndGlyphs">e</text>
<text x="-1.32" y="571.60" font-family="Liberation Serif" font-weight="normal" font-size="26.00" fill="#2e2a25" textLength="8.66" lengthAdjust="spacingAndGlyphs">-</text>
<text x="-1.32" y="596.20" font-family="Liberation Serif" font-weight="normal" font-size="26.00" fill="#2e2a25" textLength="8.66" lengthAdjust="spacingAndGlyphs">-</text>
<text x="1.17" y="620.80" font-family="Liberation Serif" font-weight="normal" font-size="26.00" fill="#2e2a25" textLength="7.22" lengthAdjust="spacingAndGlyphs">;</text>
<text x="-3.90" y="645.40" font-family="Liberation Serif" font-weight="normal" font-size="26.00" fill="#2e2a25" textLength="11.54" lengthAdjust="spacingAndGlyphs">”</text>
<text x="-0.33" y="670.00" font-family="Liberation Serif" font-weight="normal" font-size="26.00" fill="#2e2a25" textLength="7.22" lengthAdjust="spacingAndGlyphs">i</text>
<text x="-4.24" y="694.60" font-family="Liberation Serif" font-weight="normal" font-size="26.00" fill="#2e2a25" textLength="11.54" lengthAdjust="spacingAndGlyphs">e</text>
<text x="-0.33" y="719.20" font-family="Liberation Serif" font-weight="normal" font-size="26.00" fill="#2e2a25" textLength="7.22" lengthAdjust="spacingAndGlyphs">i</text>
<text x="-0.33" y="743.80" font-family="Liberation Serif" font-weight="normal" font-size="26.00" fill="#2e2a25" textLength="7.22" lengthAdjust="spacingAndGlyphs">i</text>
<text x="-0.33" y="768.40" font-family="Liberation Serif" font-weight="normal" font-size="26.00" fill="#2e2a25" textLength="7.22" lengthAdjust="spacingAndGlyphs">i</text>
<line x1="32.50" y1="726.50" x2="1278.00" y2="726.50" stroke="#2a2219" stroke-width="1.3"/>
<line x1="33.00" y1="726.00" x2="33.00" y2="751.50" stroke="#2a2219" stroke-width="1.3"/>
<line x1="1277.50" y1="726.00" x2="1277.50" y2="751.50" stroke="#2a2219" stroke-width="1.3"/>
<rect x="0.00" y="770.00" width="1312.00" height="1.00" fill="#ebe3d9"/>
<text x="40.55" y="745.40" font-family="Liberation Sans" font-weight="normal" font-size="17.44" fill="#3b352d" textLength="181.09" lengthAdjust="spacingAndGlyphs">Fonte: VII Rapporto Adepp</text>
</svg>
</body></html>
